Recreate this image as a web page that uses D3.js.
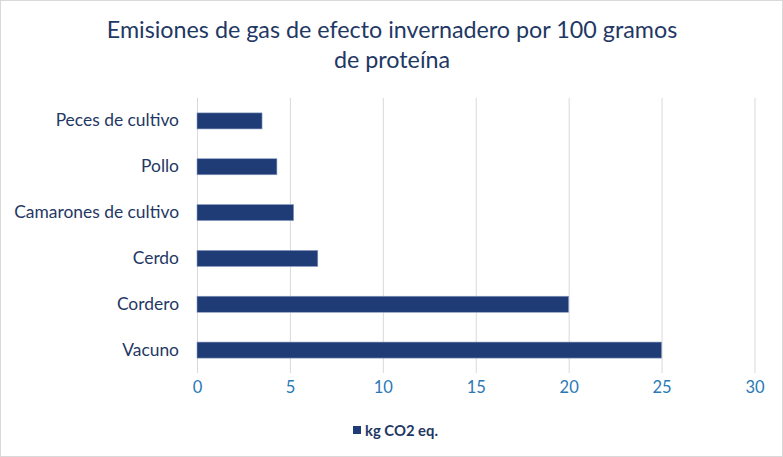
<!DOCTYPE html>
<html><head><meta charset="utf-8">
<script src="https://cdn.jsdelivr.net/npm/d3@7"></script>
<style>html,body{margin:0;padding:0;background:#fff}svg{display:block}</style>
</head><body>
<script>
const categories = ["Peces de cultivo","Pollo","Camarones de cultivo","Cerdo","Cordero","Vacuno"];
const values = [3.5, 4.3, 5.2, 6.5, 20, 25];
const xTicks = [0,5,10,15,20,25,30];
const titleLines = ["Emisiones de gas de efecto invernadero por 100 gramos","de proteína"];
const seriesName = "kg CO2 eq.";

const W = 783, H = 457;
const font = "Lato, 'Open Sans', sans-serif";
const svg = d3.select("body").append("svg").attr("width", W).attr("height", H);

svg.append("rect").attr("x",0.5).attr("y",0.5).attr("width",W-1).attr("height",H-1)
  .attr("fill","#fff").attr("stroke","#d9d9d9");

const x = d3.scaleLinear().domain([0,30]).range([197, 754.5]);
const y = d3.scaleBand().domain(categories).range([98, 373]).paddingInner(0.65).paddingOuter(0.325);

// gridlines
svg.append("g").selectAll("line").data(xTicks).join("line")
  .attr("x1", d=>x(d)+0.5).attr("x2", d=>x(d)+0.5)
  .attr("y1", 98).attr("y2", 373)
  .attr("stroke","#d9d9d9").attr("stroke-width",1);

// bars
svg.append("g").selectAll("rect").data(values).join("rect")
  .attr("x", x(0)).attr("y", (d,i)=>y(categories[i]))
  .attr("width", d=>x(d)-x(0)).attr("height", y.bandwidth())
  .attr("fill","#1f3c76").attr("stroke","#8a9cc2").attr("stroke-width",0.6);

// x axis labels
const xAxis = d3.axisBottom(x).tickValues(xTicks).tickSize(0).tickPadding(0);
const gx = svg.append("g").attr("transform","translate(0,388)").call(xAxis);
gx.select(".domain").remove();
gx.selectAll("text").attr("font-family",font).attr("font-size",16.5).attr("fill","#2a79b5").attr("dy","0.71em")
  .attr("y",0);
gx.selectAll("text").attr("transform","translate(0,-6.5)");

// y labels
const yAxis = d3.axisLeft(y).tickSize(0).tickPadding(0);
const gy = svg.append("g").attr("transform","translate(179,0)").call(yAxis);
gy.select(".domain").remove();
gy.selectAll("text").attr("font-family",font).attr("font-size",17.5).attr("fill","#1f3864");

// fit label size so longest matches width 165
(function(){
  const t = gy.selectAll("text").filter(d=>d==="Camarones de cultivo").node();
  const w = t.getComputedTextLength();
  const fs = 17.5*165/w;
  gy.selectAll("text").attr("font-size",fs);
})();

// title
const title = svg.append("g");
const tl = title.selectAll("text").data(titleLines).join("text")
  .attr("x", 392).attr("y",(d,i)=>38+i*30)
  .attr("text-anchor","middle").attr("font-family",font).attr("font-size",24)
  .attr("fill","#1f3864").text(d=>d);
(function(){
  const w = tl.nodes()[0].getComputedTextLength();
  tl.attr("font-size", 24*571/w);
})();

// legend
const lg = svg.append("g");
lg.append("rect").attr("x",353).attr("y",426).attr("width",8).attr("height",8).attr("fill","#1f3c76");
const lt = lg.append("text").attr("x",365).attr("y",435.5).attr("font-family",font).attr("font-weight","bold")
  .attr("font-size",14.5).attr("fill","#1f3864").text(seriesName);
(function(){
  const w = lt.node().getComputedTextLength();
  lt.attr("font-size",14.5*73/w);
})();
</script>
</body></html>
